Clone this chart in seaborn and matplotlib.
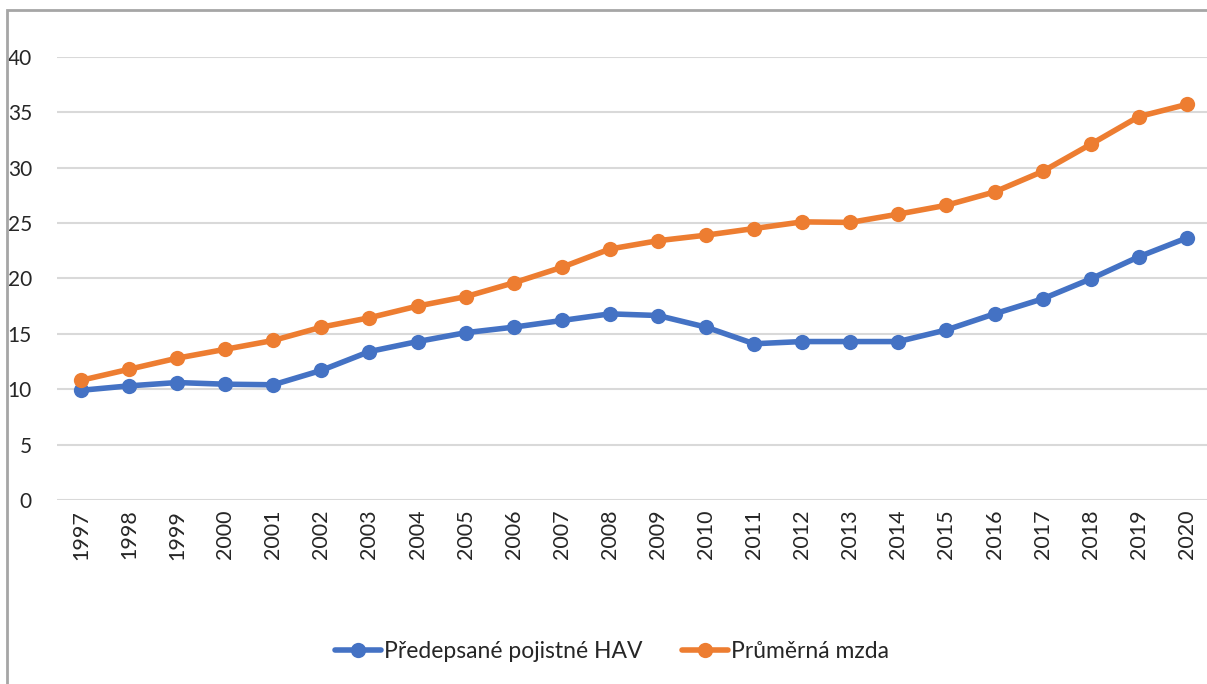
import pandas as pd
import numpy as np
import matplotlib.pyplot as plt
import seaborn as sns
from matplotlib.patches import Rectangle

roky = list(range(1997, 2021))
pojistne_hav = [9.9, 10.3, 10.6, 10.45, 10.4, 11.7, 13.4, 14.3, 15.1, 15.6, 16.2, 16.8,
                16.65, 15.6, 14.1, 14.3, 14.3, 14.3, 15.35, 16.8, 18.15, 19.95, 21.95, 23.65]
prumerna_mzda = [10.8, 11.8, 12.8, 13.6, 14.4, 15.6, 16.45, 17.5, 18.35, 19.6, 21.0, 22.65,
                 23.4, 23.9, 24.5, 25.1, 25.05, 25.8, 26.6, 27.8, 29.65, 32.1, 34.6, 35.7]
serie = ['Předepsané pojistné HAV', 'Průměrná mzda']
barvy = ['#4472C4', '#ED7D31']

df = pd.DataFrame({
    'rok': roky * 2,
    'hodnota': pojistne_hav + prumerna_mzda,
    'serie': [serie[0]] * len(roky) + [serie[1]] * len(roky),
})

sns.set_style('white')
plt.rcParams['font.family'] = ['Lato', 'DejaVu Sans']

fig = plt.figure(figsize=(12.07, 6.84), dpi=100)
ax = fig.add_axes([0.0472, 0.269, 0.956, 0.648])

sns.lineplot(data=df, x='rok', y='hodnota', hue='serie', palette=barvy,
             marker='o', markersize=11, markeredgewidth=0, linewidth=4, ax=ax)

ax.set_xlim(1996.5, 2020.5)
ax.set_ylim(0, 40)
ax.set_xticks(roky)
ax.set_xticklabels([str(r) for r in roky], rotation=90, fontsize=15.5)
ax.set_yticks(range(0, 41, 5))
ax.tick_params(axis='y', labelsize=15, pad=18, length=0)
ax.tick_params(axis='x', pad=7, length=0)
ax.grid(axis='y', color='#D9D9D9', linewidth=1.5)
ax.set_axisbelow(True)
for s in ax.spines.values():
    s.set_visible(False)
ax.set_xlabel('')
ax.set_ylabel('')

handles, labels = ax.get_legend_handles_labels()
ax.get_legend().remove()
fig.legend(handles, labels, loc='center', bbox_to_anchor=(0.507, 0.047), ncol=2,
           frameon=False, fontsize=16.5, handlelength=2.0, handletextpad=0.15,
           columnspacing=1.7)

fig.patches.append(Rectangle((0.0058, -0.1), 1.2, 1.0854, transform=fig.transFigure,
                             fill=False, edgecolor='#A6A6A6', linewidth=2))

fig.savefig('out.png', dpi=100)
